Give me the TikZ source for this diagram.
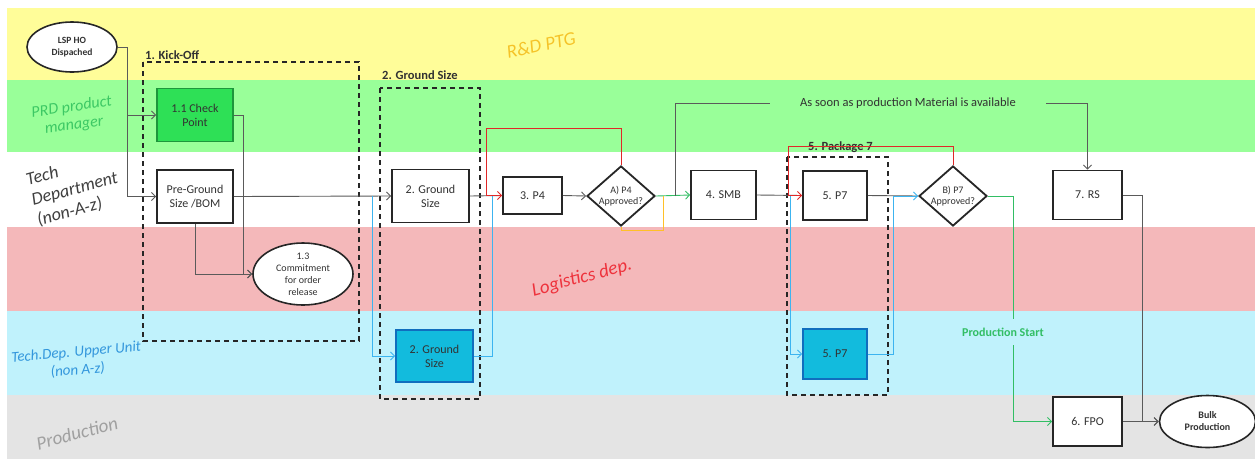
\documentclass[tikz,border=0pt]{standalone}
\usepackage{fontspec}
\usepackage{graphicx}
\setmainfont{Carlito}
\usetikzlibrary{shapes.geometric,arrows.meta}
\definecolor{laneY}{RGB}{255,253,153}
\definecolor{laneG}{RGB}{153,255,153}
\definecolor{laneR}{RGB}{244,184,186}
\definecolor{laneB}{RGB}{192,242,252}
\definecolor{laneK}{RGB}{228,228,228}
\definecolor{cpG}{RGB}{46,224,86}
\definecolor{cpGd}{RGB}{30,150,60}
\definecolor{boxB}{RGB}{18,187,221}
\definecolor{boxBd}{RGB}{16,110,190}
\definecolor{lineB}{RGB}{60,180,240}
\definecolor{lineR}{RGB}{225,40,40}
\definecolor{lineG}{RGB}{50,190,100}
\definecolor{lineO}{RGB}{255,192,40}
\definecolor{lineK}{RGB}{90,90,90}
\definecolor{txt}{RGB}{50,50,50}
\definecolor{lblY}{RGB}{245,195,40}
\definecolor{lblG}{RGB}{60,200,100}
\definecolor{lblR}{RGB}{238,50,60}
\definecolor{lblB}{RGB}{50,150,220}
\definecolor{lblK}{RGB}{160,160,160}
\begin{document}
\begin{tikzpicture}[x=1pt,y=-1pt,
  tip/.tip={Straight Barb[length=4pt,width=8pt]},
  box/.style={draw=black!85,line width=1.8pt,fill=white,inner sep=1pt,align=center,font=\fontsize{12}{14}\selectfont,text=txt},
  oval/.style={ellipse,draw=black!85,line width=1.6pt,fill=white,inner sep=0pt,align=center,font=\fontsize{10}{12}\selectfont,text=txt},
  dia/.style={diamond,draw=black!85,line width=1.8pt,fill=white,inner sep=0pt,aspect=1.13,minimum width=68pt,minimum height=60pt,align=center,font=\fontsize{10}{11.5}\selectfont,text=txt},
  grp/.style={draw=black!85,line width=1.6pt,dash pattern=on 5pt off 4pt},
  grplbl/.style={anchor=west,inner sep=0pt,font=\bfseries\fontsize{12.5}{14}\selectfont,text=txt},
  lane/.style={inner sep=0pt},
  wire/.style={draw=lineK,line width=0.9pt},
  conn/.style={wire,-tip},
  rconn/.style={draw=lineR,line width=0.9pt,-tip},
  bwire/.style={draw=lineB,line width=0.9pt},
  bconn/.style={bwire,-tip},
  gwire/.style={draw=lineG,line width=0.9pt},
  gconn/.style={gwire,-tip},
  owire/.style={draw=lineO,line width=1pt}
]
\useasboundingbox (0,0) rectangle (1255,459);
% lanes
\fill[laneY] (7,8) rectangle (1255,80);
\fill[laneG] (7,80) rectangle (1255,152);
\fill[white] (7,152) rectangle (1255,227);
\fill[laneR] (7,227) rectangle (1255,311);
\fill[laneB] (7,311) rectangle (1255,395);
\fill[laneK] (7,395) rectangle (1255,459);
% lane labels
\node[lane,text=lblY,font=\itshape\fontsize{19}{19}\selectfont] (lY) at (541,45) {\rotatebox{12}{R\&D PTG}};
\node[lane,text=lblG,font=\itshape\fontsize{16}{18}\selectfont] (lG) at (73,117) {\rotatebox{8}{\begin{tabular}{@{}c@{}}PRD product\\manager\end{tabular}}};
\node[lane,text=black!75,font=\itshape\fontsize{18}{21}\selectfont] (lT) at (75,190) {\rotatebox{15}{\begin{tabular}{@{}l@{}}Tech\\Department\\(non-A-z)\end{tabular}}};
\node[lane,text=lblR,font=\itshape\fontsize{19}{19}\selectfont] (lR) at (582,278) {\rotatebox{15}{Logistics dep.}};
\node[lane,text=lblB,font=\itshape\fontsize{15}{18}\selectfont] (lB) at (77,362) {\rotatebox{5}{\begin{tabular}{@{}c@{}}Tech.Dep. Upper Unit\\(non A-z)\end{tabular}}};
\node[lane,text=lblK,font=\itshape\fontsize{19}{19}\selectfont] (lK) at (77,433) {\rotatebox{15}{Production}};
% groups
\draw[grp] (143,62) rectangle (359,341);
\node[grplbl] (gl1) at (145,55) {1. Kick-Off};
\draw[grp] (380,88) rectangle (480,399);
\node[grplbl] (gl2) at (382,75) {2. Ground Size};
\draw[grp] (787,157) rectangle (888,395);
\node[grplbl] (gl5) at (808,147) {5. Package 7};
% nodes
\node[oval,minimum width=90pt,minimum height=50pt,font=\bfseries\fontsize{9.5}{11.5}\selectfont] (lsp) at (72,47) {LSP HO\\Dispached};
\node[box,fill=cpG,draw=cpGd,minimum width=76pt,minimum height=53pt] (check) at (195,115) {1.1 Check\\Point};
\node[box,minimum width=76pt,minimum height=53pt] (pre) at (195,196.5) {Pre-Ground\\Size /BOM};
\node[oval,minimum width=100pt,minimum height=62pt] (commit) at (303,274) {1.3\\Commitment\\for order\\release};
\node[box,minimum width=77pt,minimum height=53pt] (gs1) at (430.5,196) {2. Ground\\Size};
\node[box,fill=boxB,draw=boxBd,minimum width=77pt,minimum height=52pt] (gs2) at (434.5,356) {2. Ground\\Size};
\node[box,minimum width=59pt,minimum height=37pt] (p4) at (532.5,195.5) {3. P4};
\node[dia] (dA) at (621,196) {A) P4\\Approved?};
\node[box,minimum width=65pt,minimum height=49pt] (smb) at (723.5,195) {4. SMB};
\node[box,minimum width=64pt,minimum height=49pt] (p7) at (835,195.5) {5. P7};
\node[dia] (dB) at (953,196) {B) P7\\Approved?};
\node[box,fill=boxB,draw=boxBd,minimum width=64pt,minimum height=50pt] (p7b) at (835,354) {5. P7};
\node[box,minimum width=69pt,minimum height=49pt] (rs) at (1087.5,195) {7. RS};
\node[box,minimum width=69pt,minimum height=49pt] (fpo) at (1087.5,421.5) {6. FPO};
\node[oval,minimum width=96pt,minimum height=52pt,font=\bfseries\fontsize{10}{12}\selectfont] (bulk) at (1207.5,421.5) {Bulk\\Production};
\node[inner xsep=30pt,inner ysep=0pt,font=\fontsize{12.5}{14}\selectfont,text=txt] (avail) at (908,103) {As soon as production Material is available};
\node[inner sep=0pt,font=\bfseries\fontsize{12}{14}\selectfont,text=lineG] (pstart) at (1003,332) {Production Start};
% junction coordinates
\coordinate (j1) at (372,196);
\coordinate (j2) at (663,196);
\coordinate (j3) at (675,196);
\coordinate (j4) at (790,196);
\coordinate (g1) at (1013,319);
\coordinate (g2) at (1013,345);
% connectors
\draw[conn] (lsp.east) -- ++(10,0) coordinate (j0) |- (check.west);
\draw[conn] (j0) |- (pre.west);
\draw[conn] (check.east) -- ++(10,0) |- (commit.west);
\draw[conn] (pre.south) |- (commit.west);
\draw[conn] (pre.east) -- (gs1.west);
\draw[bconn] (j1) |- (gs2.west);
\draw[wire] (gs1.east) -- (p4.west);
\draw[bwire] (gs2.east) -| (492,196);
\draw[rconn] (dA.north) |- (486,128) |- (p4.west);
\draw[conn] (p4.east) -- (dA.west);
\draw[gconn] (dA.east) -- (smb.west);
\draw[owire] (j2) -- (663,230) -| (dA.south);
\draw[wire] (j3) |- (avail.west);
\draw[conn] (avail.east) -| (rs.north);
\draw[wire] (smb.east) -- (p7.west);
\draw[rconn] (dB.north) |- (788,146) |- (p7.west);
\draw[bconn] (j4) |- (p7b.west);
\draw[wire] (p7.east) -- (dB.west);
\draw[bconn] (p7b.east) -| (893,196) -- (dB.west);
\draw[gwire] (dB.east) -| (g1);
\draw[gconn] (g2) |- (fpo.west);
\draw[conn] (rs.east) -- ++(20,0) |- (bulk.west);
\draw[conn] (fpo.east) -- (bulk.west);
\end{tikzpicture}
\end{document}
